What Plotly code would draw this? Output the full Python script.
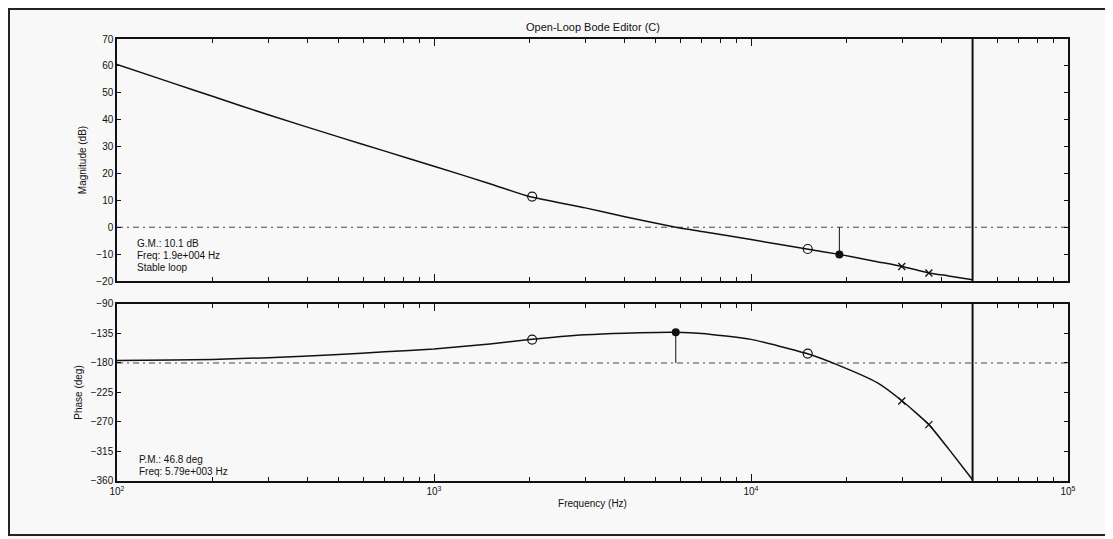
import plotly.graph_objects as go

# ---- data ----
freq_hz = [100, 150, 200, 300, 500, 700, 1000, 1500, 2000, 3000, 4000, 5790,
           7000, 10000, 15000, 19000, 25000, 30000, 36400, 42000, 50000]
magnitude_db = [60.5, 53.6, 48.7, 41.8, 33.6, 28.3, 22.7, 16.2, 11.4, 7.2, 3.9, 0.0,
                -1.6, -4.6, -8.1, -10.1, -12.8, -14.6, -17.0, -18.1, -19.5]
phase_deg = [-176.3, -175.5, -174.5, -172.0, -167.0, -163.0, -158.5, -151.0, -144.3,
             -137.0, -134.5, -133.2, -135.0, -144.0, -165.6, -184.0, -210.0, -238.0,
             -274.0, -311.0, -358.0]

zero_freq_hz = [2040, 15100]
zero_mag_db = [11.4, -8.1]
zero_phase_deg = [-144.3, -165.6]

pole_freq_hz = [29900, 36400]
pole_mag_db = [-14.6, -17.0]
pole_phase_deg = [-238.0, -274.0]

gm_freq_hz = [19000]
gm_mag_db = [-10.1]
pm_freq_hz = [5790]
pm_phase_deg = [-133.2]
nyquist_hz = 50000

mag_ticks = [70, 60, 50, 40, 30, 20, 10, 0, -10, -20]
phase_ticks = [-90, -135, -180, -225, -270, -315, -360]
decade_ticks = [100, 1000, 10000, 100000]
decade_labels = ["10<sup>2</sup>", "10<sup>3</sup>", "10<sup>4</sup>", "10<sup>5</sup>"]
minor_ticks = [m * d for d in [100, 1000, 10000] for m in range(2, 10)]

title_text = "Open-Loop Bode Editor (C)"
gm_lines = ["G.M.: 10.1 dB", "Freq: 1.9e+004 Hz", "Stable loop"]
pm_lines = ["P.M.: 46.8 deg", "Freq: 5.79e+003 Hz"]

# ---- figure ----
FONT = "Liberation Sans, Arial, sans-serif"
BLACK = "#111111"
fig = go.Figure()

# magnitude
fig.add_trace(go.Scatter(x=freq_hz, y=magnitude_db, mode="lines",
                         line=dict(color=BLACK, width=1.5, shape="spline", smoothing=0.5),
                         xaxis="x", yaxis="y", hoverinfo="skip"))
fig.add_trace(go.Scatter(x=[gm_freq_hz[0], gm_freq_hz[0]], y=[0, gm_mag_db[0]], mode="lines",
                         line=dict(color=BLACK, width=1), xaxis="x", yaxis="y"))
fig.add_trace(go.Scatter(x=zero_freq_hz, y=zero_mag_db, mode="markers",
                         marker=dict(symbol="circle-open", size=9, color=BLACK, line=dict(width=1.2)),
                         xaxis="x", yaxis="y"))
fig.add_trace(go.Scatter(x=pole_freq_hz, y=pole_mag_db, mode="markers",
                         marker=dict(symbol="x-thin", size=7, color=BLACK, line=dict(width=1.3, color=BLACK)),
                         xaxis="x", yaxis="y"))
fig.add_trace(go.Scatter(x=gm_freq_hz, y=gm_mag_db, mode="markers",
                         marker=dict(symbol="circle", size=8, color=BLACK),
                         xaxis="x", yaxis="y"))
fig.add_trace(go.Scatter(x=[nyquist_hz, nyquist_hz], y=[mag_ticks[0], mag_ticks[-1]], mode="lines",
                         line=dict(color=BLACK, width=2), xaxis="x", yaxis="y"))

# phase
fig.add_trace(go.Scatter(x=freq_hz, y=phase_deg, mode="lines",
                         line=dict(color=BLACK, width=1.5, shape="spline", smoothing=0.5),
                         xaxis="x2", yaxis="y2"))
fig.add_trace(go.Scatter(x=[pm_freq_hz[0], pm_freq_hz[0]], y=[-180, pm_phase_deg[0]], mode="lines",
                         line=dict(color=BLACK, width=1), xaxis="x2", yaxis="y2"))
fig.add_trace(go.Scatter(x=zero_freq_hz, y=zero_phase_deg, mode="markers",
                         marker=dict(symbol="circle-open", size=9, color=BLACK, line=dict(width=1.2)),
                         xaxis="x2", yaxis="y2"))
fig.add_trace(go.Scatter(x=pole_freq_hz, y=pole_phase_deg, mode="markers",
                         marker=dict(symbol="x-thin", size=7, color=BLACK, line=dict(width=1.3, color=BLACK)),
                         xaxis="x2", yaxis="y2"))
fig.add_trace(go.Scatter(x=pm_freq_hz, y=pm_phase_deg, mode="markers",
                         marker=dict(symbol="circle", size=8, color=BLACK),
                         xaxis="x2", yaxis="y2"))
fig.add_trace(go.Scatter(x=[nyquist_hz, nyquist_hz], y=[phase_ticks[0], phase_ticks[-1]], mode="lines",
                         line=dict(color=BLACK, width=2), xaxis="x2", yaxis="y2"))

# reference dash-dot lines
fig.add_shape(type="line", xref="x domain", yref="y", x0=0, x1=1, y0=0, y1=0,
              line=dict(color="#444444", width=1, dash="6px,4px,2px,4px"), layer="below")
fig.add_shape(type="line", xref="x2 domain", yref="y2", x0=0, x1=1, y0=-180, y1=-180,
              line=dict(color="#444444", width=1, dash="6px,4px,2px,4px"), layer="below")
# outer frame of the scanned window
fig.add_shape(type="rect", xref="paper", yref="paper", x0=-0.1136, x1=1.0463, y0=-0.122, y1=1.0679,
              line=dict(color="#222222", width=2), fillcolor="rgba(0,0,0,0)")

axis_common = dict(showline=True, linecolor=BLACK, linewidth=1.5, mirror="ticks",
                   ticks="inside", tickcolor=BLACK, showgrid=False, zeroline=False,
                   tickfont=dict(family=FONT, size=10, color=BLACK))
xrange = [2, 5]
fig.update_layout(
    width=1105, height=531,
    margin=dict(l=109, r=45, t=31, b=58),
    paper_bgcolor="#f8f8f8", plot_bgcolor="#f8f8f8",
    showlegend=False,
    xaxis=dict(type="log", range=xrange, anchor="y", domain=[0, 1],
               tickvals=decade_ticks, showticklabels=False, ticklen=7,
               minor=dict(tickvals=minor_ticks, ticks="inside", ticklen=4, tickcolor=BLACK),
               **axis_common),
    yaxis=dict(range=[mag_ticks[-1], mag_ticks[0]], domain=[0.4525, 1.0], anchor="x",
               tickvals=mag_ticks, ticklen=4,
               title=dict(text="Magnitude (dB)", font=dict(family=FONT, size=10, color=BLACK), standoff=8),
               **axis_common),
    xaxis2=dict(type="log", range=xrange, anchor="y2", domain=[0, 1], matches="x",
                tickvals=decade_ticks, ticktext=decade_labels, ticklen=7,
                minor=dict(tickvals=minor_ticks, ticks="inside", ticklen=4, tickcolor=BLACK),
                title=dict(text="Frequency (Hz)", font=dict(family=FONT, size=10, color=BLACK), standoff=4),
                **axis_common),
    yaxis2=dict(range=[phase_ticks[-1], phase_ticks[0]], domain=[0.0, 0.4005], anchor="x2",
                tickvals=phase_ticks, ticklen=4,
                title=dict(text="Phase (deg)", font=dict(family=FONT, size=10, color=BLACK), standoff=6),
                **axis_common),
)

fig.add_annotation(text=title_text, xref="paper", yref="paper", x=0.5, y=1.0, yshift=4,
                   xanchor="center", yanchor="bottom", showarrow=False,
                   font=dict(family=FONT, size=11, color=BLACK))
for i, line in enumerate(gm_lines):
    fig.add_annotation(text=line, xref="x domain", yref="y domain", x=0.019, y=0.157 - i * 0.051,
                       xanchor="left", yanchor="middle", showarrow=False,
                       font=dict(family=FONT, size=10, color=BLACK))
for i, line in enumerate(pm_lines):
    fig.add_annotation(text=line, xref="x2 domain", yref="y2 domain", x=0.021, y=0.119 - i * 0.068,
                       xanchor="left", yanchor="middle", showarrow=False,
                       font=dict(family=FONT, size=10, color=BLACK))

fig.write_html("out.html")
